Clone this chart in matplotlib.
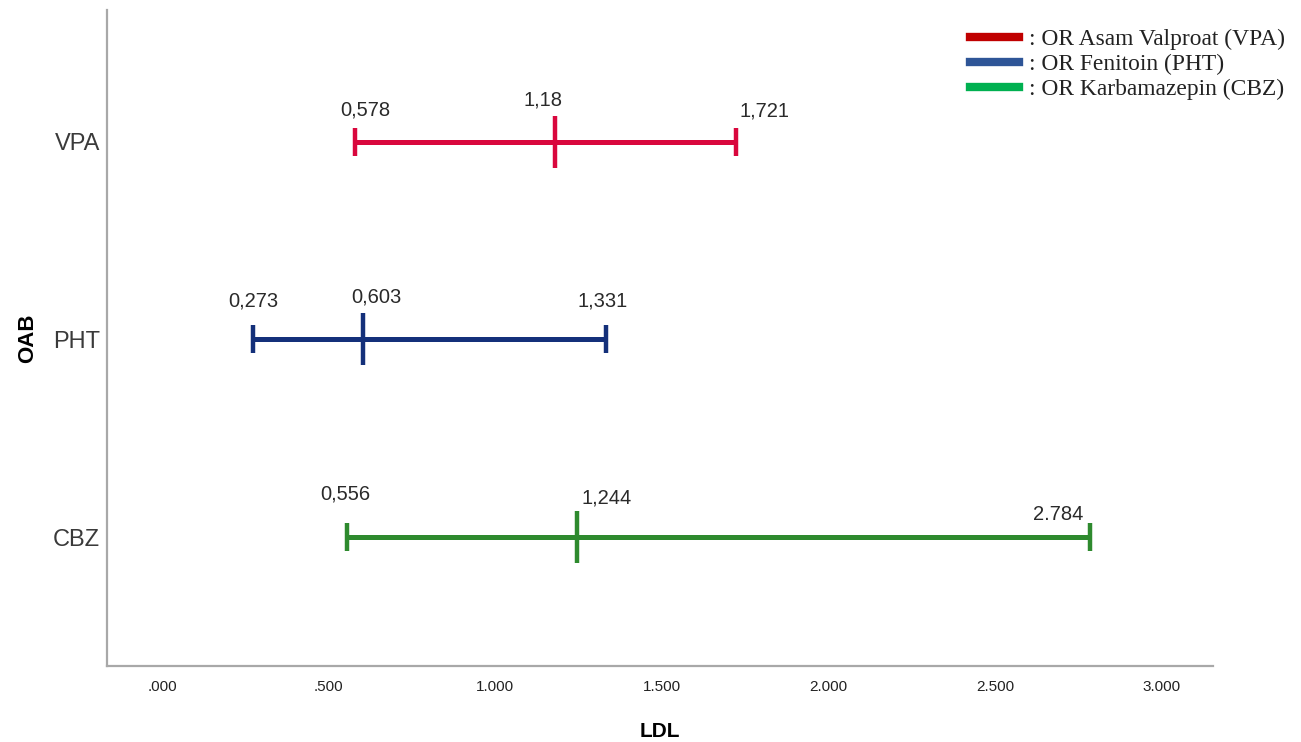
import matplotlib
matplotlib.use("Agg")
import matplotlib.pyplot as plt
from matplotlib.lines import Line2D

# ---- data ----
categories = ["CBZ", "PHT", "VPA"]
lower = [0.556, 0.273, 0.578]
estimate = [1.244, 0.603, 1.18]
upper = [2.784, 1.331, 1.721]
lower_labels = ["0,556", "0,273", "0,578"]
estimate_labels = ["1,244", "0,603", "1,18"]
upper_labels = ["2.784", "1,331", "1,721"]
xticks = [0.0, 0.5, 1.0, 1.5, 2.0, 2.5, 3.0]
xtick_labels = [".000", ".500", "1.000", "1.500", "2.000", "2.500", "3.000"]
legend_labels = [": OR Asam Valproat (VPA)", ": OR Fenitoin (PHT)", ": OR Karbamazepin (CBZ)"]

# ---- styles ----
bar_colors = {"CBZ": "#2e8a2e", "PHT": "#14307a", "VPA": "#d9073d"}
legend_colors = ["#c00000", "#2e5597", "#00b050"]
# label offsets in pixels (dx, dy)
low_off = {"CBZ": (-2, 43), "PHT": (0, 38), "VPA": (11, 32)}
mid_off = {"CBZ": (30, 39), "PHT": (13, 42), "VPA": (-12, 42)}
up_off = {"CBZ": (-32, 23), "PHT": (-3, 38), "VPA": (29, 31)}

fig = plt.figure(figsize=(13.01, 7.42), dpi=100)
ax = fig.add_axes([107/1301, 1-666/742, (1213-107)/1301, (666-10)/742])

for i, cat in enumerate(categories):
    c = bar_colors[cat]
    ax.errorbar([estimate[i]], [i],
                xerr=[[estimate[i]-lower[i]], [upper[i]-estimate[i]]],
                fmt="none", ecolor=c, elinewidth=3.6, capsize=10, capthick=3.2)
    ax.plot([estimate[i]], [i], marker="|", markersize=37, markeredgewidth=3.2,
            color=c, linestyle="none")
    for val, lab, off in [(lower[i], lower_labels[i], low_off[cat]),
                          (estimate[i], estimate_labels[i], mid_off[cat]),
                          (upper[i], upper_labels[i], up_off[cat])]:
        ax.annotate(lab, xy=(val, i), xytext=off, textcoords="offset pixels",
                    ha="center", va="center", fontsize=14.5, color="#2a2a2a",
                    family="Liberation Sans")

ax.set_xlim(-0.165, 3.153)
ax.set_ylim(-0.653, 2.668)
ax.set_yticks(range(len(categories)))
ax.set_yticklabels(categories, fontsize=17, color="#3a3a3a", family="Liberation Sans")
ax.set_xticks(xticks)
ax.set_xticklabels(xtick_labels, fontsize=11, color="#222222", family="Liberation Sans")
ax.tick_params(axis="y", length=0, pad=5)
ax.tick_params(axis="x", length=0, pad=10)

ax.set_xlabel("LDL", fontsize=15, fontweight="bold", family="Liberation Sans", labelpad=20)
ax.set_ylabel("OAB", fontsize=16, fontweight="bold", family="Liberation Sans", labelpad=11)

for s in ["top", "right"]:
    ax.spines[s].set_visible(False)
for s in ["left", "bottom"]:
    ax.spines[s].set_color("#a8a8a8")
    ax.spines[s].set_linewidth(1.6)

handles = [Line2D([], [], color=col, linewidth=6) for col in legend_colors]
leg = fig.legend(handles, legend_labels, loc="upper left",
                 bbox_to_anchor=(970/1301, 1-29/742), frameon=False,
                 prop={"family": "Liberation Serif", "size": 16.9},
                 handlelength=2.1, handletextpad=0.4, labelspacing=0.14,
                 borderpad=0, borderaxespad=0)
for t in leg.get_texts():
    t.set_color("#222222")

fig.savefig("out.png", dpi=100, facecolor="white")
